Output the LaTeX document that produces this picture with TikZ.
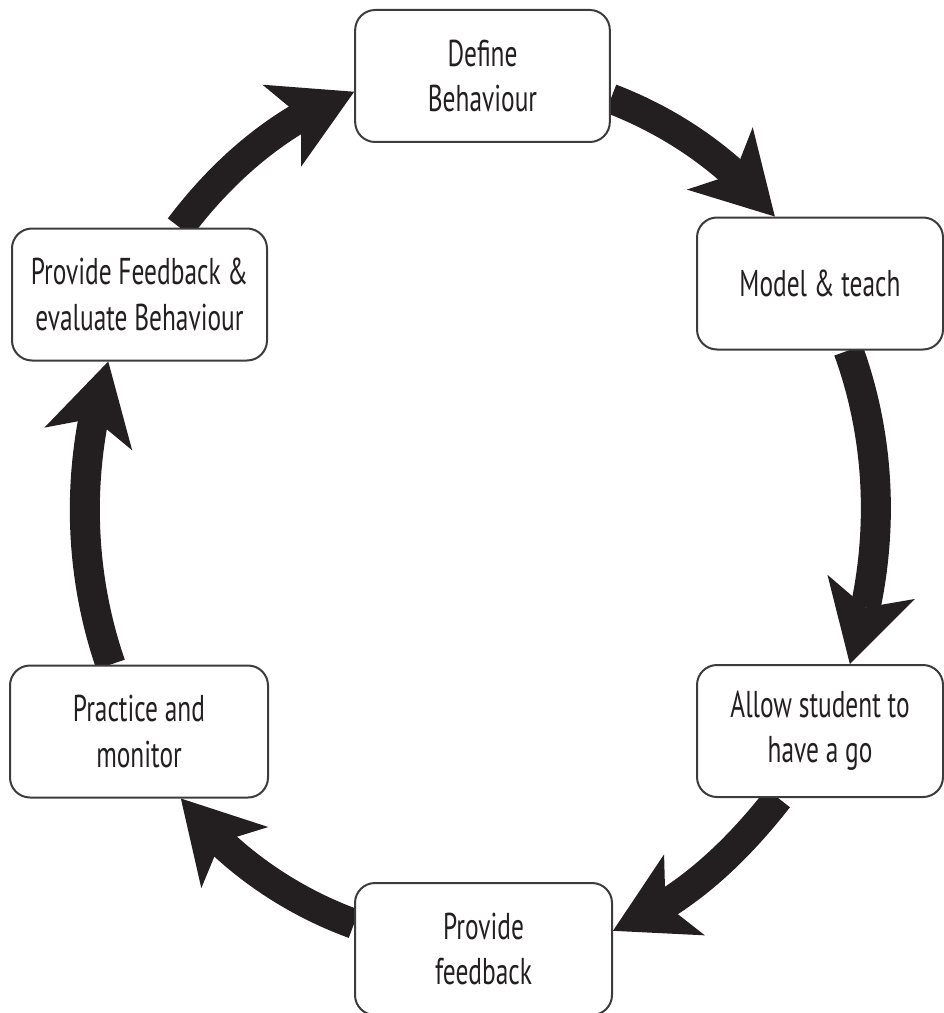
\documentclass[tikz,border=0pt]{standalone}
\usepackage{fontspec}
\setmainfont[FakeStretch=0.68]{PT Sans}
\usetikzlibrary{arrows.meta,bending,backgrounds}

\definecolor{arrowblack}{RGB}{35,31,32}
\definecolor{boxline}{RGB}{60,60,60}

\tikzset{every picture/.style={line width=0.75pt}}
\tikzset{
  stepbox/.style={draw=boxline, fill=white, line width=1.5pt, rounded corners=15pt,
    align=center, inner sep=0pt, minimum height=99pt, text=arrowblack,
    font=\fontsize{28}{34}\selectfont},
  cyclearrow/.style={draw=arrowblack, line width=22.5pt, looseness=0.87,
    -{Stealth[length=60pt,width=68pt,inset=16pt,line width=0pt]}}
}

\begin{document}
\begin{tikzpicture}[x=0.75pt,y=0.75pt,yscale=-1,xscale=1]
\useasboundingbox (0,0) rectangle (944,1013);

% Step boxes
\node [stepbox, minimum width=191pt] (define) at (482.5,76) {Define\\Behaviour};
\node [stepbox, minimum width=184.5pt] (model) at (820,283.5) {Model \& teach};
\node [stepbox, minimum width=184.5pt] (allow) at (820,731) {Allow student to\\have a go};
\node [stepbox, minimum width=192.75pt] (feedback) at (483.5,949) {Provide\\feedback};
\node [stepbox, minimum width=193.5pt] (practice) at (139,731.5) {Practice and\\monitor};
\node [stepbox, minimum width=191.25pt] (evaluate) at (139.5,294.5) {Provide Feedback \&\\evaluate Behaviour};

% Cycle arrows (out/in angles mirrored by yscale=-1)
\begin{scope}[on background layer]
\draw [cyclearrow] (define.-10) to [out=21,in=-129] (model.124);
\draw [cyclearrow] (model.-67) to [out=70,in=-71] (allow.66);
\draw [cyclearrow] (allow.-122) to [out=128,in=-21] (feedback.8);
\draw [cyclearrow] (feedback.169) to [out=-160,in=52] (practice.-58);
\draw [cyclearrow] (practice.113) to [out=-109,in=108] (evaluate.-115);
\draw [cyclearrow] (evaluate.59) to [out=-53,in=-200] (define.187);
\end{scope}

\end{tikzpicture}
\end{document}
